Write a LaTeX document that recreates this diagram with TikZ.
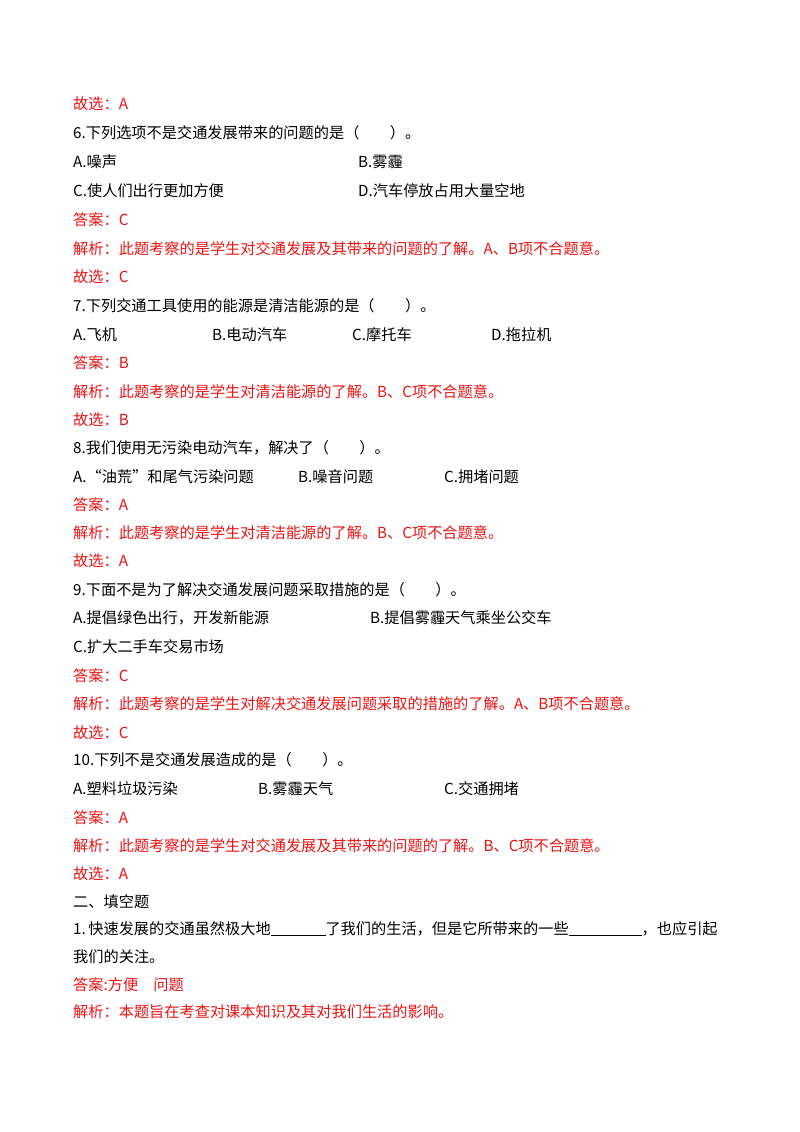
\documentclass[tikz,border=0pt]{standalone}
\usepackage{fontspec}
\setmainfont{Noto Sans CJK SC}
\usetikzlibrary{positioning}
\definecolor{ansred}{RGB}{235,20,20}
\tikzset{
  q/.style={anchor=base west,inner sep=0pt,font=\fontsize{15.2}{17}\selectfont},
  ans/.style={q,text=ansred}
}
\begin{document}
\begin{tikzpicture}[x=1pt,y=-1pt]
\useasboundingbox[fill=white] (0,0) rectangle (800,1132);
% question 6
\node[ans] (g5) at (73,109) {故选：A};
\node[q] (q6) at (73,138) {6.下列选项不是交通发展带来的问题的是（\quad\quad）。};
\node[q] (q6a) at (73,167) {A.噪声};
\node[q] (q6b) at (358,167) {B.雾霾};
\node[q] (q6c) at (73,196) {C.使人们出行更加方便};
\node[q] (q6d) at (358,196) {D.汽车停放占用大量空地};
\node[ans] (a6) at (73,225) {答案：C};
\node[ans] (j6) at (73,254) {解析：此题考察的是学生对交通发展及其带来的问题的了解。A、B项不合题意。};
\node[ans] (g6) at (73,282) {故选：C};
% question 7
\node[q] (q7) at (73,311) {7.下列交通工具使用的能源是清洁能源的是（\quad\quad）。};
\node[q] (q7a) at (73,340) {A.飞机};
\node[q] (q7b) at (212,340) {B.电动汽车};
\node[q] (q7c) at (352,340) {C.摩托车};
\node[q] (q7d) at (491,340) {D.拖拉机};
\node[ans] (a7) at (73,368) {答案：B};
\node[ans] (j7) at (73,397) {解析：此题考察的是学生对清洁能源的了解。B、C项不合题意。};
\node[ans] (g7) at (73,425) {故选：B};
% question 8
\node[q] (q8) at (73,453) {8.我们使用无污染电动汽车，解决了（\quad\quad）。};
\node[q] (q8a) at (73,482) {A.“油荒”和尾气污染问题};
\node[q] (q8b) at (298,482) {B.噪音问题};
\node[q] (q8c) at (444,482) {C.拥堵问题};
\node[ans] (a8) at (73,510) {答案：A};
\node[ans] (j8) at (73,538) {解析：此题考察的是学生对清洁能源的了解。B、C项不合题意。};
\node[ans] (g8) at (73,566) {故选：A};
% question 9
\node[q] (q9) at (73,595) {9.下面不是为了解决交通发展问题采取措施的是（\quad\quad）。};
\node[q] (q9a) at (73,623) {A.提倡绿色出行，开发新能源};
\node[q] (q9b) at (370,623) {B.提倡雾霾天气乘坐公交车};
\node[q] (q9c) at (73,652) {C.扩大二手车交易市场};
\node[ans] (a9) at (73,681) {答案：C};
\node[ans] (j9) at (73,709) {解析：此题考察的是学生对解决交通发展问题采取的措施的了解。A、B项不合题意。};
\node[ans] (g9) at (73,738) {故选：C};
% question 10
\node[q] (q10) at (73,765) {10.下列不是交通发展造成的是（\quad\quad）。};
\node[q] (q10a) at (73,794) {A.塑料垃圾污染};
\node[q] (q10b) at (258,794) {B.雾霾天气};
\node[q] (q10c) at (444,794) {C.交通拥堵};
\node[ans] (a10) at (73,823) {答案：A};
\node[ans] (j10) at (73,851) {解析：此题考察的是学生对交通发展及其带来的问题的了解。B、C项不合题意。};
\node[ans] (g10) at (73,879) {故选：A};
% fill in the blanks
\node[q] (sec2) at (73,907) {二、填空题};
\node[q] (f1) at (73,934) {1.\,快速发展的交通虽然极大地\underline{\hspace{3.6em}}了我们的生活，但是它所带来的一些\underline{\hspace{4.8em}}，也应引起};
\node[q] (f1b) at (73,962) {我们的关注。};
\node[ans] (af1) at (73,990) {答案:方便\quad 问题};
\node[ans] (jf1) at (73,1017) {解析：本题旨在考查对课本知识及其对我们生活的影响。};
\end{tikzpicture}
\end{document}
